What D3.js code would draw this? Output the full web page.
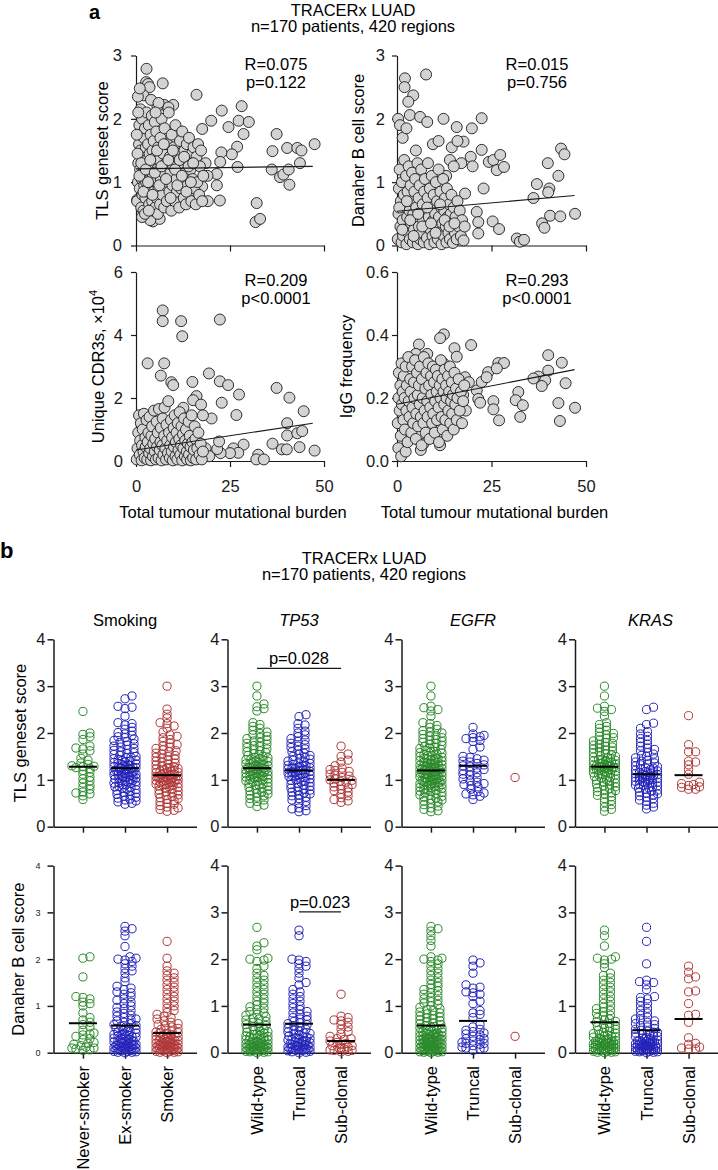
<!DOCTYPE html>
<html>
<head>
<meta charset="utf-8">
<script src="https://cdn.jsdelivr.net/npm/d3@7"></script>
<style>
  body { margin: 0; background: #fff; }
  svg { display: block; font-family: Arial, "Liberation Sans", Helvetica, sans-serif; }
</style>
</head>
<body>
<svg id="chart" width="718" height="1170"></svg>
<script>
// ---------- panel a: TMB scatter plots, [tmb, score] ----------
const tmbTicks = [0, 25, 50];

const tmbTls = [
  [2.8,2.79],[2.7,2.58],[3.2,2.55],[3.6,2.5],[7.1,2.56],[2.0,2.37],[16.1,2.38],[7.5,2.22],[9.9,2.22],[8.6,2.18],
  [28.1,2.2],[22.8,2.13],[20.0,1.97],[17.6,1.84],[24.6,1.87],[27.3,1.97],[30.0,1.95],[28.6,1.76],[26.9,1.56],[25.5,1.44],
  [22.7,1.47],[22.4,1.32],[21.5,1.13],[21.5,0.95],[27.0,1.24],[22.3,0.71],[32.1,0.67],[31.8,0.37],[33.0,0.42],[37.4,1.76],
  [36.3,1.49],[40.2,1.54],[42.9,1.54],[44.0,1.5],[47.5,1.6],[36.1,1.2],[38.3,1.08],[39.2,1.12],[40.6,1.2],[40.8,0.96],
  [43.6,1.3],[19.1,0.7],[17.6,0.93],[18.5,1.3],[19.0,1.1],[0.5,2.35],[1.2,2.15],[1.0,2.48],[0.3,0.72],[4.5,0.38],
  [5.5,0.45],[6.3,0.42],
  [0.3,0.7],[0.5,1.0],[0.6,1.3],[0.8,1.6],[0.9,1.9],[1.0,0.9],[1.1,1.2],[1.2,1.5],[1.3,1.75],[1.4,0.6],
  [1.5,1.05],[1.6,2.0],[1.7,0.8],[1.8,1.4],[1.9,1.15],[2.0,0.55],[2.1,1.7],[2.2,0.95],[2.3,1.25],[2.4,1.85],
  [2.5,0.75],[2.6,1.55],[2.7,1.0],[2.8,2.1],[2.9,1.35],[3.0,0.45],[3.1,0.85],[3.2,1.6],[3.3,1.2],[3.4,1.9],
  [3.5,0.65],[3.6,1.45],[3.7,1.05],[3.8,0.4],[3.9,1.75],[4.0,0.95],[4.1,1.3],[4.2,2.05],[4.3,0.7],[4.4,1.5],
  [4.5,1.1],[4.6,0.55],[4.7,1.65],[4.8,0.85],[4.9,1.25],[5.0,1.95],[5.1,0.6],[5.2,1.4],[5.3,1.0],[5.4,1.8],
  [5.5,0.75],[5.6,1.2],[5.7,2.2],[5.8,0.5],[5.9,1.55],[6.0,0.9],[6.2,1.35],[6.4,0.65],[6.5,1.7],[6.6,1.05],
  [6.8,2.0],[7.0,0.8],[7.2,1.45],[7.3,1.15],[7.5,0.6],[7.6,1.85],[7.8,0.95],[8.0,1.3],[8.2,0.7],[8.3,1.6],
  [8.5,1.0],[8.7,2.1],[8.9,0.85],[9.0,1.4],[9.2,1.15],[9.4,0.55],[9.5,1.75],[9.7,0.95],[9.9,1.25],[10.1,1.55],
  [10.3,0.7],[10.5,1.9],[10.7,1.05],[10.9,0.85],[11.1,1.45],[11.3,1.2],[11.5,0.6],[11.7,1.65],[11.9,0.9],[12.1,1.3],
  [12.3,1.8],[12.5,1.0],[12.7,0.75],[12.9,1.5],[13.1,1.15],[13.3,0.65],[13.5,1.6],[13.7,0.95],[13.9,1.35],[14.1,1.7],
  [14.3,0.85],[14.5,1.2],[14.7,0.7],[14.9,1.45],[15.1,1.05],[15.3,1.55],[15.5,0.9],[15.7,1.3],[15.9,0.65],[16.1,1.4],
  [16.3,1.0],[16.5,1.6],[16.8,0.8],[17.0,1.25],[17.3,1.5],[17.6,0.7],[17.9,1.1],
  [0.4,1.45],[0.9,1.1],[1.4,1.3],[2.0,0.85],[2.6,1.2],[3.2,1.0],[3.8,1.35],[4.4,0.8],[5.0,1.15],[5.6,1.5],
  [6.2,0.95],[6.8,1.25],[7.4,1.6],[8.0,1.05],[8.6,1.35],[9.2,0.75],[9.8,1.5],[10.4,1.2],[11.0,0.95],[11.6,1.35],
  [12.2,1.1],[12.8,1.4],[13.4,0.85],[14.0,1.25],[14.6,1.0],[15.2,1.3],[0.2,1.75],[0.6,2.1],[1.6,0.45],[2.4,0.5],
  [3.4,0.55],[4.0,2.3],[6.0,2.25],[5.2,2.1]
];

const tmbDanaher = [
  [2.1,2.64],[2.0,2.5],[7.7,2.7],[4.3,2.37],[3.0,2.27],[3.4,2.06],[6.1,2.03],[8.0,1.95],[12.3,2.0],[22.4,2.01],
  [15.8,1.87],[19.8,1.85],[17.6,1.64],[22.4,1.51],[24.3,1.32],[25.5,1.35],[27.3,1.43],[26.4,1.19],[28.3,1.24],[22.9,0.9],
  [21.1,0.53],[21.5,0.37],[21.5,0.19],[25.3,0.38],[27.0,0.26],[31.7,0.11],[32.5,0.06],[33.6,0.09],[36.1,0.75],[37.0,0.97],
  [39.9,1.3],[40.3,0.9],[40.0,0.84],[42.7,1.1],[43.4,1.53],[44.3,1.44],[40.5,0.47],[43.2,0.46],[38.4,0.35],[39.0,0.28],
  [47.1,0.5],[0.3,2.0],[0.8,1.9],[1.5,1.7],[2.5,1.85],[5.0,1.5],[9.5,1.6],[11.0,1.65],[14.5,1.55],[16.0,1.65],
  [18.0,0.82],[19.5,1.4],[20.0,1.25],[17.0,1.3],[14.0,1.35],[13.0,1.1],[15.0,1.25],
  [0.2,0.1],[0.4,0.5],[0.5,0.9],[0.7,1.2],[0.9,0.3],[1.0,0.7],[1.2,0.05],[1.3,1.0],[1.5,0.4],[1.6,0.15],
  [1.8,0.8],[1.9,1.35],[2.1,0.25],[2.2,0.6],[2.4,1.1],[2.5,0.02],[2.7,0.45],[2.8,0.85],[3.0,0.2],[3.1,1.25],
  [3.3,0.55],[3.4,0.1],[3.6,0.95],[3.7,0.35],[3.9,0.7],[4.0,1.15],[4.2,0.05],[4.3,0.5],[4.5,0.25],[4.6,0.85],
  [4.8,1.05],[4.9,0.15],[5.1,0.6],[5.2,0.4],[5.4,1.3],[5.5,0.02],[5.7,0.75],[5.8,0.3],[6.0,0.95],[6.1,0.1],
  [6.3,0.5],[6.4,1.2],[6.6,0.2],[6.8,0.65],[6.9,0.4],[7.1,0.05],[7.2,0.85],[7.4,1.05],[7.6,0.3],[7.7,0.55],
  [7.9,0.12],[8.1,0.75],[8.2,1.3],[8.4,0.45],[8.6,0.02],[8.7,0.9],[8.9,0.25],[9.1,0.6],[9.2,1.1],[9.4,0.15],
  [9.6,0.4],[9.7,0.8],[9.9,0.05],[10.1,0.5],[10.3,1.0],[10.4,0.3],[10.6,0.7],[10.8,0.1],[11.0,1.2],[11.1,0.45],
  [11.3,0.2],[11.5,0.85],[11.7,0.6],[11.8,0.02],[12.0,0.35],[12.2,1.05],[12.4,0.15],[12.5,0.55],[12.7,0.75],[12.9,0.3],
  [13.1,0.05],[13.2,0.9],[13.4,0.45],[13.6,0.2],[13.8,0.65],[14.0,0.1],[14.2,0.5],[14.4,0.8],[14.6,0.3],[14.8,0.04],
  [15.0,0.6],[15.3,0.2],[15.5,0.45],[15.8,0.1],[16.0,0.7],[16.3,0.3],[16.6,0.55],[16.9,0.15],[17.2,0.4],[17.6,0.08],
  [17.9,0.3],[0.6,0.6],[1.4,0.25],[2.6,0.7],[3.5,0.4],[4.4,0.15],[5.6,0.5],[6.7,0.3],[8.0,0.6],[9.0,0.35],
  [10.2,0.2],[11.4,0.65],[12.6,0.4],[13.9,0.3],[15.2,0.35]
];

const tmbCdr3 = [
  [7.1,4.78],[7.1,4.44],[12.0,4.44],[12.3,3.96],[22.3,4.49],[3.1,3.1],[7.5,3.1],[6.6,2.71],[9.4,2.5],[9.9,2.41],
  [15.0,2.51],[19.4,2.78],[22.3,2.53],[24.5,2.41],[27.4,2.11],[22.8,1.85],[26.7,1.46],[20.1,1.35],[16.1,2.06],[15.2,1.93],
  [17.3,1.79],[17.8,1.45],[12.6,1.69],[37.4,2.32],[40.8,2.01],[40.2,1.2],[44.6,1.58],[40.2,0.81],[42.9,0.88],[44.2,0.95],
  [43.5,0.44],[36.3,0.55],[38.8,0.37],[40.1,0.37],[47.5,0.33],[32.5,0.2],[32.0,0.05],[34.0,0.05],[28.6,0.52],[25.9,0.4],
  [27.2,0.26],[25.0,0.25],[22.5,0.25],[21.6,0.38],[22.1,0.62],[18.5,0.4],[19.5,0.15],
  [0.2,0.05],[0.4,0.4],[0.6,0.9],[0.8,1.45],[1.0,0.2],[1.1,0.65],[1.3,1.2],[1.5,0.02],[1.6,0.5],[1.8,1.0],
  [2.0,0.3],[2.1,1.5],[2.3,0.1],[2.5,0.75],[2.6,0.45],[2.8,1.3],[3.0,0.05],[3.1,0.6],[3.3,0.9],[3.5,0.25],
  [3.6,1.4],[3.8,0.4],[4.0,0.02],[4.1,0.8],[4.3,1.1],[4.5,0.15],[4.6,0.55],[4.8,1.6],[5.0,0.3],[5.1,0.7],
  [5.3,0.05],[5.5,1.25],[5.6,0.45],[5.8,0.9],[6.0,0.1],[6.1,1.65],[6.3,0.35],[6.5,0.6],[6.6,1.05],[6.8,0.02],
  [7.0,0.5],[7.1,1.35],[7.3,0.2],[7.5,0.8],[7.6,1.7],[7.8,0.4],[8.0,0.05],[8.1,1.15],[8.3,0.65],[8.5,0.25],
  [8.6,1.9],[8.8,0.9],[9.0,0.1],[9.1,0.5],[9.3,1.3],[9.5,0.3],[9.6,0.75],[9.8,0.02],[10.0,1.05],[10.1,0.45],
  [10.3,1.45],[10.5,0.15],[10.6,0.6],[10.8,0.9],[11.0,0.05],[11.1,1.2],[11.3,0.35],[11.5,0.7],[11.6,1.55],[11.8,0.2],
  [12.0,0.5],[12.1,1.1],[12.3,0.02],[12.5,0.85],[12.6,0.4],[12.8,1.35],[13.0,0.15],[13.1,0.65],[13.3,1.0],[13.5,0.3],
  [13.6,0.05],[13.8,0.55],[14.0,1.25],[14.1,0.2],[14.3,0.8],[14.5,0.45],[14.6,0.02],[14.8,1.45],[15.0,0.6],[15.2,0.1],
  [15.4,0.35],[15.6,1.1],[15.8,0.7],[16.0,0.05],[16.3,0.4],[16.6,0.9],[16.9,0.2],[17.2,0.55],[17.5,0.05],[17.8,0.3]
];

const tmbIgg = [
  [12.4,0.402],[11.4,0.39],[19.6,0.368],[15.2,0.358],[15.8,0.331],[5.8,0.37],[5.0,0.34],[8.0,0.34],[12.3,0.31],[26.8,0.311],
  [28.3,0.311],[24.1,0.282],[26.4,0.294],[40.0,0.336],[43.6,0.312],[40.0,0.287],[37.4,0.268],[36.1,0.262],[39.2,0.256],[38.3,0.238],
  [44.6,0.247],[32.1,0.219],[31.4,0.193],[33.3,0.177],[32.6,0.14],[25.5,0.19],[25.5,0.164],[27.0,0.129],[42.7,0.184],[47.1,0.169],
  [43.1,0.127],[21.1,0.224],[21.5,0.197],[22.0,0.185],[22.4,0.251],[23.7,0.266],[18.0,0.266],[19.0,0.25],[17.5,0.21],[18.2,0.16],
  [0.35,0.041],[1.1,0.015],[2.3,0.03],[6.3,0.035],[7.0,0.055],[11.4,0.05],[11.7,0.088],[13.5,0.105],[16.5,0.12],
  [0.2,0.12],[0.4,0.2],[0.5,0.28],[0.7,0.16],[0.9,0.24],[1.0,0.08],[1.2,0.31],[1.3,0.18],[1.5,0.22],[1.7,0.13],
  [1.8,0.27],[2.0,0.2],[2.1,0.1],[2.3,0.3],[2.5,0.16],[2.6,0.24],[2.8,0.06],[3.0,0.33],[3.1,0.19],[3.3,0.14],
  [3.5,0.26],[3.6,0.22],[3.8,0.09],[4.0,0.3],[4.1,0.17],[4.3,0.12],[4.5,0.25],[4.6,0.2],[4.8,0.32],[5.0,0.07],
  [5.1,0.15],[5.3,0.28],[5.5,0.21],[5.6,0.11],[5.8,0.24],[6.0,0.18],[6.1,0.3],[6.3,0.14],[6.5,0.05],[6.6,0.26],
  [6.8,0.2],[7.0,0.12],[7.1,0.33],[7.3,0.16],[7.5,0.23],[7.6,0.09],[7.8,0.28],[8.0,0.19],[8.1,0.14],[8.3,0.31],
  [8.5,0.24],[8.6,0.07],[8.8,0.17],[9.0,0.27],[9.1,0.21],[9.3,0.12],[9.5,0.3],[9.6,0.15],[9.8,0.25],[10.0,0.09],
  [10.1,0.19],[10.3,0.29],[10.5,0.22],[10.6,0.13],[10.8,0.27],[11.0,0.17],[11.1,0.06],[11.3,0.24],[11.5,0.2],[11.6,0.32],
  [11.8,0.14],[12.0,0.26],[12.1,0.1],[12.3,0.22],[12.5,0.18],[12.6,0.29],[12.8,0.13],[13.0,0.24],[13.1,0.2],[13.3,0.08],
  [13.5,0.27],[13.6,0.16],[13.8,0.22],[14.0,0.3],[14.1,0.12],[14.3,0.19],[14.5,0.25],[14.6,0.15],[14.8,0.21],[15.0,0.1],
  [15.2,0.28],[15.4,0.18],[15.6,0.23],[15.8,0.13],[16.0,0.2],[16.3,0.26],[16.6,0.16],[16.9,0.22],[17.2,0.12],[17.5,0.19],
  [17.8,0.24]
];

// regression lines, [tmb, score] at both ends
const tlsFit = [[0, 1.21], [47, 1.25]];
const danaherFit = [[0, 0.54], [47, 0.79]];
const cdr3Fit = [[0, 0.35], [47, 1.2]];
const iggFit = [[0, 0.18], [47, 0.29]];

const tlsStats = ['R=0.075', 'p=0.122'];
const danaherStats = ['R=0.015', 'p=0.756'];
const cdr3Stats = ['R=0.209', 'p<0.0001'];
const iggStats = ['R=0.293', 'p<0.0001'];

// ---------- panel b: scatter dot plots ----------
const smokingGroups = ['Never-smoker', 'Ex-smoker', 'Smoker'];
const mutationGroups = ['Wild-type', 'Truncal', 'Sub-clonal'];
const scoreTicks = [0, 1, 2, 3, 4];

const smokingNeverTls = [2.46,2.0,1.97,1.92,1.86,1.72,1.68,1.66,1.62,1.55,1.46,1.42,1.36,1.33,1.3,1.29,1.28,1.26,1.24,1.2,1.16,1.12,1.06,1.02,0.98,0.93,0.88,0.84,0.8,0.74,0.72,0.7,0.66,0.58];
const smokingExTls = [2.79,2.73,2.57,2.55,2.52,2.36,2.22,2.2,2.17,2.12,2.08,2.04,2.01,1.98,1.95,1.92,1.9,1.87,1.84,1.82,1.8,1.77,1.74,1.72,1.7,1.67,1.65,1.63,1.6,1.58,1.56,1.54,1.52,1.5,1.48,1.47,1.45,1.43,1.42,1.4,1.38,1.37,1.35,1.34,1.32,1.31,1.3,1.29,1.28,1.27,1.26,1.25,1.24,1.23,1.22,1.21,1.2,1.19,1.18,1.17,1.16,1.15,1.14,1.13,1.12,1.11,1.1,1.09,1.08,1.06,1.05,1.04,1.03,1.02,1.0,0.99,0.98,0.97,0.95,0.94,0.93,0.92,0.9,0.89,0.88,0.86,0.85,0.84,0.82,0.8,0.79,0.77,0.75,0.73,0.71,0.69,0.67,0.65,0.63,0.61,0.59,0.57,0.55,0.53,0.5,0.48,1.33,1.26,1.18,1.07,1.41,0.96];
const smokerTls = [3.0,2.51,2.4,2.32,2.22,2.2,2.15,2.1,2.02,1.96,1.93,1.9,1.86,1.82,1.78,1.75,1.72,1.7,1.67,1.64,1.62,1.6,1.57,1.55,1.52,1.5,1.48,1.46,1.44,1.42,1.4,1.38,1.36,1.34,1.32,1.3,1.28,1.26,1.25,1.23,1.22,1.2,1.19,1.18,1.16,1.15,1.14,1.12,1.11,1.1,1.09,1.08,1.07,1.06,1.05,1.04,1.03,1.02,1.01,1.0,0.99,0.98,0.96,0.95,0.94,0.92,0.91,0.9,0.88,0.87,0.85,0.84,0.82,0.8,0.78,0.76,0.74,0.72,0.7,0.68,0.66,0.64,0.62,0.6,0.58,0.56,0.53,0.5,0.48,0.45,0.42,0.4,0.37,0.35,0.33,1.13,1.06,0.97,1.17,1.0,0.89,1.24,0.93];

const tp53WtTls = [3.0,2.79,2.62,2.56,2.52,2.47,2.22,2.18,2.14,2.1,2.06,2.02,1.99,1.96,1.93,1.9,1.88,1.85,1.83,1.8,1.78,1.76,1.73,1.71,1.69,1.66,1.64,1.62,1.6,1.58,1.56,1.54,1.52,1.5,1.48,1.47,1.45,1.43,1.42,1.4,1.39,1.37,1.36,1.34,1.33,1.32,1.3,1.29,1.28,1.27,1.26,1.25,1.24,1.23,1.22,1.21,1.2,1.19,1.18,1.17,1.16,1.15,1.14,1.12,1.11,1.1,1.09,1.07,1.06,1.05,1.04,1.02,1.01,1.0,0.98,0.97,0.95,0.94,0.92,0.91,0.89,0.88,0.86,0.84,0.82,0.8,0.78,0.76,0.74,0.72,0.7,0.68,0.66,0.63,0.6,0.57,0.54,0.5,0.46,0.43,1.31,1.22,1.13,1.35,1.08,1.44];
const tp53TruncTls = [2.39,2.35,2.2,2.17,2.1,2.04,2.0,1.96,1.92,1.88,1.85,1.82,1.78,1.75,1.72,1.69,1.66,1.63,1.6,1.57,1.55,1.52,1.5,1.48,1.46,1.44,1.42,1.4,1.38,1.36,1.35,1.33,1.31,1.3,1.28,1.27,1.25,1.24,1.22,1.21,1.2,1.19,1.18,1.16,1.15,1.14,1.12,1.11,1.1,1.08,1.07,1.05,1.04,1.02,1.0,0.99,0.97,0.95,0.94,0.92,0.9,0.88,0.86,0.84,0.82,0.8,0.78,0.76,0.74,0.72,0.7,0.68,0.66,0.63,0.6,0.57,0.54,0.5,0.45,0.4,0.38,0.34,0.32,1.26,1.17,1.09,1.29,1.23];
const tp53SubTls = [1.72,1.55,1.5,1.42,1.38,1.3,1.25,1.22,1.2,1.18,1.16,1.12,1.1,1.08,1.05,1.02,1.0,0.99,0.97,0.95,0.93,0.9,0.88,0.85,0.83,0.8,0.77,0.74,0.7,0.66,0.62,0.58,0.55,0.52];

const egfrWtTls = [3.0,2.79,2.57,2.54,2.5,2.47,2.36,2.22,2.2,2.16,2.12,2.08,2.05,2.02,2.0,1.97,1.95,1.93,1.9,1.88,1.86,1.84,1.82,1.8,1.78,1.76,1.74,1.72,1.7,1.68,1.67,1.65,1.63,1.61,1.6,1.58,1.57,1.55,1.54,1.52,1.51,1.5,1.48,1.47,1.46,1.44,1.43,1.42,1.41,1.4,1.38,1.37,1.36,1.35,1.34,1.33,1.32,1.31,1.3,1.29,1.28,1.27,1.26,1.25,1.24,1.23,1.22,1.21,1.2,1.2,1.19,1.18,1.17,1.16,1.15,1.14,1.13,1.12,1.11,1.1,1.09,1.08,1.07,1.06,1.05,1.04,1.03,1.02,1.01,1.0,0.99,0.98,0.97,0.96,0.95,0.94,0.93,0.92,0.91,0.9,0.89,0.88,0.87,0.86,0.85,0.84,0.83,0.82,0.8,0.79,0.78,0.76,0.75,0.73,0.72,0.7,0.68,0.67,0.65,0.63,0.61,0.59,0.57,0.55,0.53,0.5,0.47,0.44,0.4,0.37,0.34,0.32,1.25,1.15,1.05,1.35,1.22,1.12,0.95,1.45];
const egfrTruncTls = [2.12,1.98,1.95,1.92,1.9,1.88,1.84,1.82,1.7,1.65,1.5,1.48,1.45,1.42,1.4,1.38,1.35,1.32,1.3,1.28,1.25,1.22,1.2,1.18,1.15,1.12,1.1,1.05,1.02,0.98,0.95,0.92,0.9,0.88,0.85,0.8,0.75,0.72,0.7,0.68,0.65,0.58];
const egfrSubTls = [1.05];

const krasWtTls = [3.0,2.79,2.57,2.53,2.5,2.46,2.36,2.22,2.18,2.14,2.1,2.06,2.02,1.99,1.96,1.93,1.9,1.88,1.85,1.83,1.8,1.78,1.76,1.74,1.72,1.7,1.68,1.66,1.64,1.62,1.6,1.58,1.56,1.54,1.52,1.5,1.49,1.47,1.46,1.44,1.43,1.41,1.4,1.38,1.37,1.36,1.34,1.33,1.32,1.31,1.3,1.29,1.28,1.27,1.26,1.25,1.24,1.23,1.22,1.21,1.2,1.19,1.18,1.16,1.15,1.14,1.12,1.11,1.1,1.08,1.07,1.05,1.04,1.02,1.0,0.99,0.97,0.95,0.93,0.91,0.89,0.87,0.85,0.83,0.81,0.79,0.77,0.75,0.72,0.7,0.67,0.64,0.6,0.56,0.52,0.47,0.42,0.37,0.33,1.35,1.27,1.17,1.42,1.3,1.22];
const krasTruncTls = [2.55,2.5,2.21,2.18,2.1,2.03,1.98,1.93,1.88,1.84,1.8,1.76,1.72,1.68,1.65,1.62,1.58,1.55,1.52,1.5,1.47,1.45,1.42,1.4,1.38,1.36,1.34,1.32,1.3,1.28,1.26,1.24,1.22,1.21,1.19,1.18,1.16,1.15,1.13,1.12,1.11,1.1,1.09,1.07,1.06,1.05,1.03,1.02,1.0,0.99,0.97,0.96,0.94,0.93,0.91,0.9,0.88,0.87,0.85,0.83,0.82,0.8,0.78,0.76,0.74,0.72,0.7,0.68,0.66,0.63,0.6,0.57,0.54,0.5,0.46,0.42,0.38,1.14,1.08,1.01,0.95,1.17,0.89,1.25,1.04];
const krasSubTls = [2.37,1.75,1.6,1.6,1.4,1.38,1.32,1.22,1.12,0.95,0.92,0.9,0.88,0.85,0.84,0.8,0.8];

const smokingNeverDan = [2.05,2.02,1.62,1.2,1.18,1.15,1.08,1.05,1.0,0.85,0.75,0.7,0.65,0.6,0.55,0.48,0.42,0.38,0.35,0.3,0.28,0.22,0.18,0.15,0.12,0.1,0.08,0.06,0.05,0.2,0.4,0.1];
const smokingExDan = [2.7,2.65,2.6,2.5,2.27,2.05,2.02,2.0,1.98,1.95,1.9,1.85,1.8,1.75,1.7,1.6,1.52,1.42,1.38,1.35,1.3,1.28,1.25,1.2,1.15,1.12,1.08,1.05,1.0,0.97,0.94,0.9,0.87,0.84,0.8,0.78,0.75,0.72,0.7,0.68,0.65,0.62,0.6,0.58,0.56,0.54,0.52,0.5,0.48,0.46,0.44,0.42,0.4,0.39,0.37,0.36,0.34,0.33,0.31,0.3,0.28,0.27,0.26,0.24,0.23,0.22,0.2,0.19,0.18,0.17,0.16,0.15,0.14,0.13,0.12,0.11,0.1,0.09,0.08,0.07,0.06,0.05,0.04,0.03,0.02,0.01,0.0,0.25,0.21,0.15,0.11,0.07,0.03,0.35,0.45,0.29,0.18,0.09,0.05,0.55,0.38,0.12,0.24,0.01];
const smokerDan = [2.38,2.02,1.85,1.75,1.7,1.65,1.6,1.55,1.5,1.45,1.4,1.35,1.3,1.25,1.2,1.15,1.1,1.05,1.0,0.95,0.9,0.86,0.82,0.78,0.75,0.72,0.68,0.65,0.62,0.6,0.58,0.55,0.52,0.5,0.48,0.46,0.44,0.42,0.4,0.38,0.36,0.35,0.33,0.32,0.3,0.29,0.28,0.26,0.25,0.24,0.22,0.21,0.2,0.19,0.18,0.17,0.16,0.15,0.14,0.13,0.12,0.11,0.1,0.09,0.08,0.07,0.06,0.05,0.04,0.03,0.02,0.01,0.0,0.27,0.23,0.17,0.13,0.09,0.05,0.31,0.37,0.2,0.11,0.03,0.15,0.43,0.07,0.25,0.01,0.34];

const tp53WtDan = [2.68,2.35,2.28,2.2,2.02,2.0,1.98,1.95,1.85,1.8,1.7,1.65,1.6,1.55,1.5,1.45,1.4,1.35,1.3,1.25,1.2,1.15,1.1,1.06,1.02,0.98,0.95,0.92,0.88,0.85,0.82,0.8,0.77,0.74,0.72,0.7,0.67,0.65,0.62,0.6,0.58,0.56,0.54,0.52,0.5,0.48,0.46,0.44,0.42,0.4,0.38,0.36,0.35,0.33,0.32,0.3,0.29,0.27,0.26,0.25,0.23,0.22,0.21,0.2,0.19,0.18,0.17,0.16,0.15,0.14,0.13,0.12,0.11,0.1,0.09,0.08,0.07,0.06,0.05,0.04,0.03,0.02,0.01,0.0,0.24,0.18,0.12,0.08,0.04,0.28,0.34,0.15,0.1,0.06,0.02,0.45,0.2,0.13,0.39,0.05];
const tp53TruncDan = [2.62,2.5,2.0,1.98,1.95,1.9,1.85,1.8,1.7,1.6,1.5,1.45,1.35,1.3,1.25,1.2,1.15,1.1,1.05,1.0,0.96,0.92,0.88,0.85,0.82,0.78,0.75,0.72,0.7,0.67,0.64,0.62,0.6,0.57,0.55,0.52,0.5,0.48,0.46,0.44,0.42,0.4,0.38,0.36,0.34,0.32,0.3,0.28,0.27,0.25,0.24,0.22,0.21,0.2,0.18,0.17,0.16,0.15,0.14,0.13,0.12,0.11,0.1,0.09,0.08,0.07,0.06,0.05,0.04,0.03,0.02,0.01,0.0,0.26,0.19,0.14,0.09,0.05,0.33,0.23,0.12,0.41,0.07,0.3];
const tp53SubDan = [1.25,0.78,0.75,0.7,0.68,0.65,0.6,0.55,0.5,0.45,0.4,0.35,0.3,0.28,0.25,0.22,0.2,0.18,0.15,0.12,0.1,0.08,0.06,0.05,0.03,0.02,0.3,0.15,0.1,0.05];

const egfrWtDan = [2.7,2.65,2.6,2.5,2.4,2.28,2.05,2.02,2.0,1.98,1.95,1.9,1.85,1.8,1.75,1.7,1.65,1.6,1.55,1.5,1.46,1.42,1.38,1.35,1.32,1.28,1.25,1.22,1.18,1.15,1.12,1.09,1.06,1.03,1.0,0.97,0.94,0.92,0.9,0.87,0.85,0.83,0.8,0.78,0.76,0.74,0.72,0.7,0.68,0.66,0.64,0.62,0.6,0.58,0.56,0.55,0.53,0.52,0.5,0.49,0.47,0.46,0.44,0.43,0.42,0.4,0.39,0.38,0.37,0.36,0.35,0.34,0.33,0.32,0.31,0.3,0.29,0.28,0.27,0.26,0.25,0.24,0.23,0.22,0.21,0.2,0.19,0.18,0.17,0.16,0.15,0.14,0.13,0.12,0.11,0.1,0.09,0.08,0.07,0.06,0.05,0.04,0.03,0.02,0.01,0.0,0.25,0.22,0.19,0.16,0.13,0.1,0.07,0.04,0.01,0.28,0.31,0.35,0.2,0.15,0.12,0.08,0.05,0.03,0.45,0.38,0.18,0.24,0.14,0.09,0.02,0.3,0.41,0.06];
const egfrTruncDan = [1.98,1.92,1.85,1.7,1.45,1.4,1.38,1.3,1.28,1.25,1.2,1.1,1.05,0.9,0.85,0.82,0.75,0.6,0.55,0.5,0.48,0.45,0.42,0.4,0.38,0.35,0.3,0.3,0.28,0.25,0.22,0.2,0.2,0.18,0.15,0.12,0.1,0.1,0.08,0.05];
const egfrSubDan = [0.35];

const krasWtDan = [2.62,2.5,2.28,2.05,2.02,2.0,1.98,1.9,1.82,1.7,1.65,1.6,1.55,1.5,1.45,1.4,1.35,1.3,1.25,1.2,1.15,1.1,1.05,1.0,0.97,0.94,0.9,0.87,0.84,0.8,0.78,0.75,0.72,0.7,0.67,0.65,0.62,0.6,0.58,0.56,0.54,0.52,0.5,0.48,0.46,0.44,0.42,0.4,0.38,0.36,0.35,0.33,0.31,0.3,0.28,0.27,0.25,0.24,0.22,0.21,0.2,0.19,0.18,0.17,0.16,0.15,0.14,0.13,0.12,0.11,0.1,0.09,0.08,0.07,0.06,0.05,0.04,0.03,0.02,0.01,0.0,0.26,0.23,0.19,0.15,0.11,0.07,0.03,0.29,0.34,0.2,0.13,0.09,0.05,0.41,0.17,0.25,0.01];
const krasTruncDan = [2.68,2.38,1.9,1.55,1.52,1.5,1.45,1.35,1.2,1.18,1.15,1.1,1.05,1.0,0.95,0.9,0.85,0.8,0.76,0.72,0.7,0.68,0.65,0.62,0.6,0.58,0.55,0.52,0.5,0.48,0.46,0.44,0.42,0.4,0.38,0.36,0.34,0.32,0.31,0.3,0.28,0.27,0.26,0.25,0.24,0.22,0.21,0.2,0.19,0.18,0.17,0.16,0.15,0.14,0.13,0.12,0.11,0.1,0.09,0.08,0.07,0.06,0.05,0.04,0.03,0.02,0.01,0.0,0.23,0.19,0.16,0.12,0.09,0.06,0.03,0.29,0.35,0.2,0.14,0.1,0.05,0.43,0.25,0.15,0.08,0.02];
const krasSubDan = [1.85,1.72,1.62,1.58,1.32,1.3,1.05,0.82,0.8,0.65,0.32,0.2,0.18,0.12,0.1,0.08,0.08];

// horizontal centre lines (null = none drawn)
const smokingTlsLines = [1.28, 1.25, 1.1];
const tp53TlsLines = [1.25, 1.2, 1.0];
const egfrTlsLines = [1.2, 1.3, null];
const krasTlsLines = [1.28, 1.12, 1.1];
const smokingDanLines = [0.63, 0.58, 0.42];
const tp53DanLines = [0.6, 0.62, 0.25];
const egfrDanLines = [0.58, 0.68, null];
const krasDanLines = [0.65, 0.48, 0.72];

const groupColours = ['#2b8a2b', '#2424bb', '#b03838'];
const ink = '#1a1a1a';
const FS = 16.5;

const svg = d3.select('#chart');

function styleAxis(sel, width, size) {
  sel.attr('font-family', null).attr('font-size', size);
  sel.selectAll('.domain, .tick line').attr('stroke', ink).attr('stroke-width', width);
  sel.selectAll('.tick text').attr('fill', ink);
}

// ---------- panel a ----------
svg.append('text').attr('x', 89).attr('y', 19).attr('font-size', 20).attr('font-weight', 'bold').text('a');
svg.append('text').attr('x', 353).attr('y', 16).attr('text-anchor', 'middle').attr('font-size', FS).text('TRACERx LUAD');
svg.append('text').attr('x', 353).attr('y', 32).attr('text-anchor', 'middle').attr('font-size', FS).text('n=170 patients, 420 regions');

const scatterPanels = [
  { left: 136, right: 324, top: 55.5, bottom: 245.5, domain: [0, 3], ticks: [0, 1, 2, 3], fmt: d3.format('d'), pad: 9,
    points: tmbTls, fit: tlsFit, stats: tlsStats, label: 'TLS geneset score', labelX: 108, xLabels: false },
  { left: 397, right: 586, top: 55.5, bottom: 245.5, domain: [0, 3], ticks: [0, 1, 2, 3], fmt: d3.format('d'), pad: 7,
    points: tmbDanaher, fit: danaherFit, stats: danaherStats, label: 'Danaher B cell score', labelX: 364, xLabels: false },
  { left: 136, right: 324, top: 272, bottom: 461, domain: [0, 6], ticks: [0, 2, 4, 6], fmt: d3.format('d'), pad: 8,
    points: tmbCdr3, fit: cdr3Fit, stats: cdr3Stats, label: null, labelX: 104, xLabels: true },
  { left: 397, right: 586, top: 272, bottom: 461, domain: [0, 0.6], ticks: [0, 0.2, 0.4, 0.6], fmt: d3.format('.1f'), pad: 3,
    points: tmbIgg, fit: iggFit, stats: iggStats, label: 'IgG frequency', labelX: 352, xLabels: true }
];

scatterPanels.forEach(p => {
  const x = d3.scaleLinear().domain([0, 50]).range([p.left, p.right]);
  const y = d3.scaleLinear().domain(p.domain).range([p.bottom, p.top]);
  const g = svg.append('g');

  g.append('g')
    .attr('transform', `translate(0,${p.bottom})`)
    .call(d3.axisBottom(x).tickValues(tmbTicks).tickSize(6).tickSizeOuter(0).tickPadding(13)
      .tickFormat(p.xLabels ? d3.format('d') : () => ''))
    .call(s => styleAxis(s, 1.2, FS));

  g.append('g')
    .attr('transform', `translate(${p.left},0)`)
    .call(d3.axisLeft(y).tickValues(p.ticks).tickSize(5).tickSizeOuter(0).tickPadding(p.pad).tickFormat(p.fmt))
    .call(s => styleAxis(s, 1.2, FS));

  g.append('g').selectAll('circle')
    .data(p.points)
    .join('circle')
    .attr('cx', d => x(d[0]))
    .attr('cy', d => y(d[1]))
    .attr('r', 5.5)
    .attr('fill', '#d3d3d3')
    .attr('stroke', ink)
    .attr('stroke-width', 0.9);

  g.append('path')
    .attr('d', d3.line().x(d => x(d[0])).y(d => y(d[1]))(p.fit))
    .attr('fill', 'none')
    .attr('stroke', ink)
    .attr('stroke-width', 1.1);

  const cx = p.left + 140;
  g.append('text').attr('x', cx).attr('y', p.top + 14).attr('text-anchor', 'middle').attr('font-size', FS).text(p.stats[0]);
  g.append('text').attr('x', cx).attr('y', p.top + 32).attr('text-anchor', 'middle').attr('font-size', FS).text(p.stats[1]);

  const ly = (p.top + p.bottom) / 2;
  const lab = g.append('text')
    .attr('transform', `translate(${p.labelX},${ly}) rotate(-90)`)
    .attr('text-anchor', 'middle')
    .attr('font-size', FS);
  if (p.label) {
    lab.text(p.label);
  } else {
    lab.append('tspan').text('Unique CDR3s, ×10');
    lab.append('tspan').attr('font-size', 11).attr('dy', -7).text('4');
  }

  if (p.xLabels) {
    g.append('text')
      .attr('x', (p.left + p.right) / 2 + 3)
      .attr('y', 518)
      .attr('text-anchor', 'middle')
      .attr('font-size', FS)
      .text('Total tumour mutational burden');
  }
});

// ---------- panel b ----------
svg.append('text').attr('x', 0).attr('y', 558).attr('font-size', 22).attr('font-weight', 'bold').text('b');
svg.append('text').attr('x', 364).attr('y', 564).attr('text-anchor', 'middle').attr('font-size', FS).text('TRACERx LUAD');
svg.append('text').attr('x', 364).attr('y', 580).attr('text-anchor', 'middle').attr('font-size', FS).text('n=170 patients, 420 regions');

const dotColumns = [
  { title: 'Smoking', italic: false, x0: 53.5, groups: smokingGroups,
    tls: [smokingNeverTls, smokingExTls, smokerTls], dan: [smokingNeverDan, smokingExDan, smokerDan],
    tlsLines: smokingTlsLines, danLines: smokingDanLines },
  { title: 'TP53', italic: true, x0: 227.5, groups: mutationGroups,
    tls: [tp53WtTls, tp53TruncTls, tp53SubTls], dan: [tp53WtDan, tp53TruncDan, tp53SubDan],
    tlsLines: tp53TlsLines, danLines: tp53DanLines },
  { title: 'EGFR', italic: true, x0: 401.5, groups: mutationGroups,
    tls: [egfrWtTls, egfrTruncTls, egfrSubTls], dan: [egfrWtDan, egfrTruncDan, egfrSubDan],
    tlsLines: egfrTlsLines, danLines: egfrDanLines },
  { title: 'KRAS', italic: true, x0: 575, groups: mutationGroups,
    tls: [krasWtTls, krasTruncTls, krasSubTls], dan: [krasWtDan, krasTruncDan, krasSubDan],
    tlsLines: krasTlsLines, danLines: krasDanLines }
];

const dotRows = [
  { key: 'tls', lines: 'tlsLines', top: 639.3, bottom: 826.7, label: 'TLS geneset score', labelX: 26 },
  { key: 'dan', lines: 'danLines', top: 865.6, bottom: 1052.7, label: 'Danaher B cell score', labelX: 24 }
];

// p-value brackets: column, row, from/to group index, height in score units
const pBrackets = [
  { col: 1, row: 0, from: 0, to: 2, at: 3.38, text: 'p=0.028' },
  { col: 1, row: 1, from: 1, to: 2, at: 3.01, text: 'p=0.023' }
];

const R = 4.1;
const PANEL_W = 143;

// row-based spread, like a dot plot: points only push sideways when they share a row,
// and crowded rows are squeezed into a capped width
function swarm(values, cx, y) {
  const rowH = 3.6;
  const gap = 7;
  const maxHalf = 11;
  const offsets = [0];
  for (let k = 1; k <= maxHalf; k++) offsets.push(k, -k);
  const pts = values.map(v => ({ v, py: y(v) })).sort((a, b) => b.py - a.py);
  const placed = [];
  pts.forEach(p => {
    let best = 0, bestScore = -1;
    for (const dx of offsets) {
      let m = Infinity;
      for (let i = placed.length - 1; i >= 0; i--) {
        const q = placed[i];
        if (q.py - p.py >= rowH) break;
        const d = Math.abs(q.dx - dx);
        if (d < m) m = d;
      }
      if (m >= gap) { best = dx; bestScore = m; break; }
      if (m > bestScore) { bestScore = m; best = dx; }
    }
    p.dx = best;
    placed.push(p);
  });
  return pts.map(p => ({ x: cx + p.dx, y: p.py }));
}

dotColumns.forEach((col, ci) => {
  const x = d3.scalePoint().domain(col.groups).range([col.x0, col.x0 + PANEL_W]).padding(0.7);

  svg.append('text')
    .attr('x', col.x0 + PANEL_W / 2 + (ci === 3 ? 4 : 0))
    .attr('y', 626)
    .attr('text-anchor', 'middle')
    .attr('font-size', FS)
    .attr('font-style', col.italic ? 'italic' : null)
    .text(col.title);

  dotRows.forEach((row, ri) => {
    const y = d3.scaleLinear().domain([0, 4]).range([row.bottom, row.top]);
    const g = svg.append('g');
    const small = ci === 0 && ri === 1;

    g.append('g')
      .attr('transform', `translate(0,${row.bottom})`)
      .call(d3.axisBottom(x).tickSize(6).tickSizeOuter(0).tickFormat(() => ''))
      .call(s => styleAxis(s, 1.5, FS));

    g.append('g')
      .attr('transform', `translate(${col.x0},0)`)
      .call(d3.axisLeft(y).tickValues(scoreTicks).tickSize(6).tickSizeOuter(0)
        .tickPadding(small ? 7 : 2).tickFormat(d3.format('d')))
      .call(s => styleAxis(s, 1.5, small ? 9 : FS));

    col[row.key].forEach((vals, gi) => {
      const cx = x(col.groups[gi]);
      g.append('g').selectAll('circle')
        .data(swarm(vals, cx, y))
        .join('circle')
        .attr('cx', d => d.x)
        .attr('cy', d => d.y)
        .attr('r', R)
        .attr('fill', 'none')
        .attr('stroke', groupColours[gi])
        .attr('stroke-width', 1);
    });

    col[row.lines].forEach((v, gi) => {
      if (v == null) return;
      const cx = x(col.groups[gi]);
      g.append('line')
        .attr('x1', cx - 14).attr('x2', cx + 14)
        .attr('y1', y(v)).attr('y2', y(v))
        .attr('stroke', '#000')
        .attr('stroke-width', 2);
    });

    pBrackets.filter(b => b.col === ci && b.row === ri).forEach(b => {
      const x1 = x(col.groups[b.from]);
      const x2 = x(col.groups[b.to]);
      g.append('line')
        .attr('x1', x1).attr('x2', x2)
        .attr('y1', y(b.at)).attr('y2', y(b.at))
        .attr('stroke', ink).attr('stroke-width', 1.2);
      g.append('text')
        .attr('x', (x1 + x2) / 2)
        .attr('y', y(b.at) - 4)
        .attr('text-anchor', 'middle')
        .attr('font-size', FS)
        .text(b.text);
    });

    if (ci === 0) {
      g.append('text')
        .attr('transform', `translate(${row.labelX},${(row.top + row.bottom) / 2}) rotate(-90)`)
        .attr('text-anchor', 'middle')
        .attr('font-size', FS)
        .text(row.label);
    }

    if (ri === 1) {
      col.groups.forEach(name => {
        g.append('text')
          .attr('transform', `translate(${x(name) + 6},1066) rotate(-90)`)
          .attr('text-anchor', 'end')
          .attr('font-size', FS)
          .text(name);
      });
    }
  });
});
</script>
</body>
</html>
